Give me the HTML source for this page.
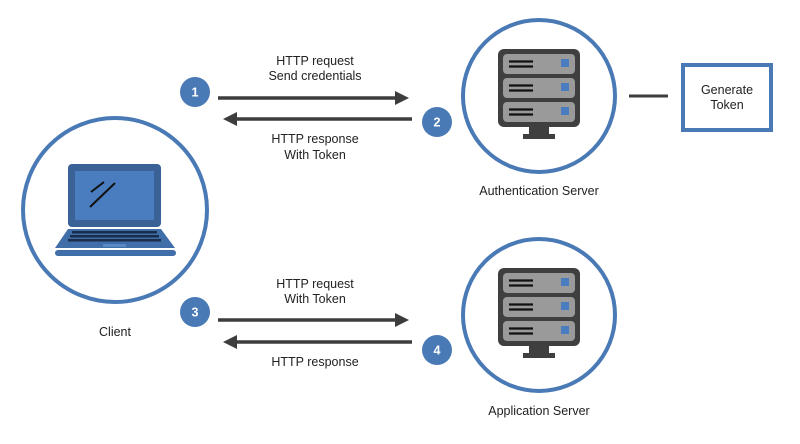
<!DOCTYPE html>
<html><head><meta charset="utf-8"><style>
html,body{margin:0;padding:0;background:#fff;width:800px;height:444px;overflow:hidden}
svg{display:block}
text{font-family:"Liberation Sans",sans-serif;fill:#222;font-size:12.5px;text-anchor:middle}
</style></head><body>
<svg width="800" height="444" viewBox="0 0 800 444">
<defs>
<g id="srv">
  <rect x="-41" y="-47" width="82" height="78" rx="6" fill="#3f3f3f"/>
  <rect x="-36" y="-42" width="72" height="20" rx="4" fill="#9a9a9a"/>
  <rect x="-36" y="-18" width="72" height="20" rx="4" fill="#9a9a9a"/>
  <rect x="-36" y="6" width="72" height="20" rx="4" fill="#9a9a9a"/>
  <g stroke="#111" stroke-width="2.2">
    <line x1="-30" y1="-34.5" x2="-6" y2="-34.5"/><line x1="-30" y1="-29.5" x2="-6" y2="-29.5"/>
    <line x1="-30" y1="-10.5" x2="-6" y2="-10.5"/><line x1="-30" y1="-5.5" x2="-6" y2="-5.5"/>
    <line x1="-30" y1="13.5" x2="-6" y2="13.5"/><line x1="-30" y1="18.5" x2="-6" y2="18.5"/>
  </g>
  <rect x="22" y="-37" width="8" height="8" fill="#4a7dbf"/>
  <rect x="22" y="-13" width="8" height="8" fill="#4a7dbf"/>
  <rect x="22" y="11" width="8" height="8" fill="#4a7dbf"/>
  <rect x="-10" y="31" width="20" height="9" fill="#3f3f3f"/>
  <rect x="-16" y="38" width="32" height="5" fill="#3f3f3f"/>
</g>
<marker id="ah" markerWidth="4" markerHeight="4" refX="2" refY="2" orient="auto" markerUnits="strokeWidth"><path d="M0,0 L4,2 L0,4 z" fill="#3d3d3d"/></marker>
</defs>

<circle cx="115" cy="210" r="92" fill="none" stroke="#4a7ab5" stroke-width="4"/>
<rect x="68" y="164" width="93" height="63" rx="4" fill="#3a6296"/>
<rect x="75" y="171" width="79" height="49" fill="#4a7dbf"/>
<line x1="91" y1="192" x2="104" y2="182" stroke="#111" stroke-width="2"/>
<line x1="90" y1="207" x2="115" y2="183" stroke="#111" stroke-width="2"/>
<path d="M68 229 L161 229 L175 248 L55 248 Z" fill="#3f6ea8"/>
<g fill="#1a2d4a">
  <rect x="72" y="231" width="85" height="2.5"/>
  <rect x="70" y="235" width="89" height="2.5"/>
  <rect x="68" y="239" width="93" height="2.5"/>
</g>
<rect x="103" y="244" width="23" height="3" fill="#5a8ac6"/>
<rect x="55" y="250" width="121" height="6" rx="3" fill="#3f6ea8"/>
<text x="115" y="336" font-size="13">Client</text>

<circle cx="539" cy="96" r="76" fill="none" stroke="#4a7ab5" stroke-width="4"/>
<use href="#srv" x="539" y="96"/>
<text x="539" y="195" font-size="13">Authentication Server</text>
<line x1="629" y1="96" x2="668" y2="96" stroke="#3d3d3d" stroke-width="3"/>
<rect x="683" y="65" width="88" height="65" fill="#fff" stroke="#4a7ab5" stroke-width="4"/>
<text x="727" y="94" font-size="12">Generate</text>
<text x="727" y="109" font-size="12">Token</text>

<circle cx="539" cy="315" r="76" fill="none" stroke="#4a7ab5" stroke-width="4"/>
<use href="#srv" x="539" y="315"/>
<text x="539" y="415" font-size="13">Application Server</text>

<g stroke="#3d3d3d" stroke-width="3.5">
<line x1="218" y1="98" x2="402" y2="98" marker-end="url(#ah)"/>
<line x1="412" y1="119" x2="230" y2="119" marker-end="url(#ah)"/>
<line x1="218" y1="320" x2="402" y2="320" marker-end="url(#ah)"/>
<line x1="412" y1="342" x2="230" y2="342" marker-end="url(#ah)"/>
</g>
<text x="315" y="65">HTTP request</text>
<text x="315" y="80">Send credentials</text>
<text x="315" y="143">HTTP response</text>
<text x="315" y="159">With Token</text>
<text x="315" y="288">HTTP request</text>
<text x="315" y="303">With Token</text>
<text x="315" y="366">HTTP response</text>

<g fill="#4a7ab5">
<circle cx="195" cy="92" r="15"/><circle cx="437" cy="122" r="15"/>
<circle cx="195" cy="312" r="15"/><circle cx="437" cy="350" r="15"/>
</g>
<g style="font-weight:bold;font-size:12px">
<text x="195" y="96.5" style="fill:#fff">1</text>
<text x="437" y="126.5" style="fill:#fff">2</text>
<text x="195" y="316.5" style="fill:#fff">3</text>
<text x="437" y="354.5" style="fill:#fff">4</text>
</g>
</svg>
</body></html>
